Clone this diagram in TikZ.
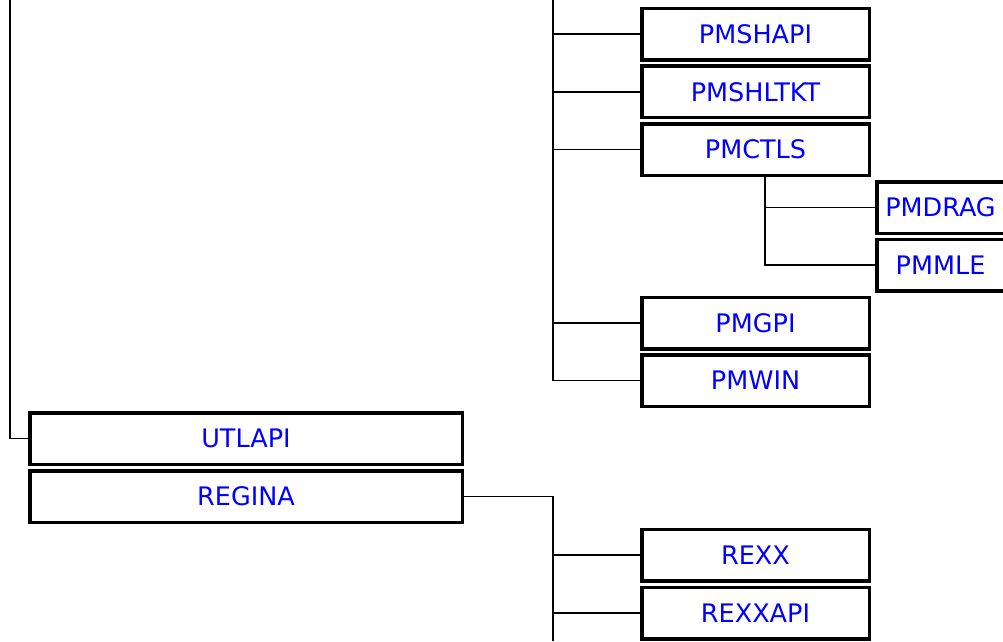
\documentclass[tikz,border=0pt]{standalone}
\usepackage{fontspec}
\setmainfont{DejaVu Sans}
\definecolor{txtblue}{RGB}{0,0,255}
\begin{document}
\begin{tikzpicture}[x=1pt,y=-1pt,
  box/.style={draw=black,line width=3.5pt,fill=white,text=txtblue,
    font=\fontsize{25.5}{30}\selectfont,inner sep=0pt,
    minimum height=51.5pt,anchor=center},
  pmbox/.style={box,minimum width=227.5pt},
  widebox/.style={box,minimum width=432.5pt},
  leafbox/.style={box,minimum width=127.5pt},
  conn/.style={draw=black,line width=1.5pt}]
\useasboundingbox (0,0) rectangle (1003,641);
% boxes
\node[pmbox] (PMSHAPI) at (755.5,34) {PMSHAPI};
\node[pmbox] (PMSHLTKT) at (755.5,91.75) {PMSHLTKT};
\node[pmbox] (PMCTLS) at (755.5,149.5) {PMCTLS};
\node[leafbox] (PMDRAG) at (940.5,207.5) {PMDRAG};
\node[leafbox] (PMMLE) at (940.5,265) {PMMLE};
\node[pmbox] (PMGPI) at (755.5,323) {PMGPI};
\node[pmbox] (PMWIN) at (755.5,380.5) {PMWIN};
\node[widebox] (UTLAPI) at (246,438.5) {UTLAPI};
\node[widebox] (REGINA) at (246,496.5) {REGINA};
\node[pmbox] (REXX) at (755.5,555) {REXX};
\node[pmbox] (REXXAPI) at (755.5,613) {REXXAPI};
% coordinates
\coordinate (trunkTop) at (553,0);
\coordinate (leftTop) at (10,0);
\coordinate (ctlX) at (765,176);
\coordinate (botEnd) at (553,641);
% connectors
\draw[conn] (leftTop) |- (UTLAPI.west);
\draw[conn] (trunkTop) |- (PMWIN.west);
\draw[conn] (trunkTop |- PMSHAPI.west) -- (PMSHAPI.west);
\draw[conn] (trunkTop |- PMSHLTKT.west) -- (PMSHLTKT.west);
\draw[conn] (trunkTop |- PMCTLS.west) -- (PMCTLS.west);
\draw[conn] (trunkTop |- PMGPI.west) -- (PMGPI.west);
\draw[conn] (ctlX) |- (PMMLE.west);
\draw[conn] (ctlX |- PMDRAG.west) -- (PMDRAG.west);
\draw[conn] (REGINA.east) -| (botEnd);
\draw[conn] (botEnd |- REXX.west) -- (REXX.west);
\draw[conn] (botEnd |- REXXAPI.west) -- (REXXAPI.west);
\end{tikzpicture}
\end{document}
